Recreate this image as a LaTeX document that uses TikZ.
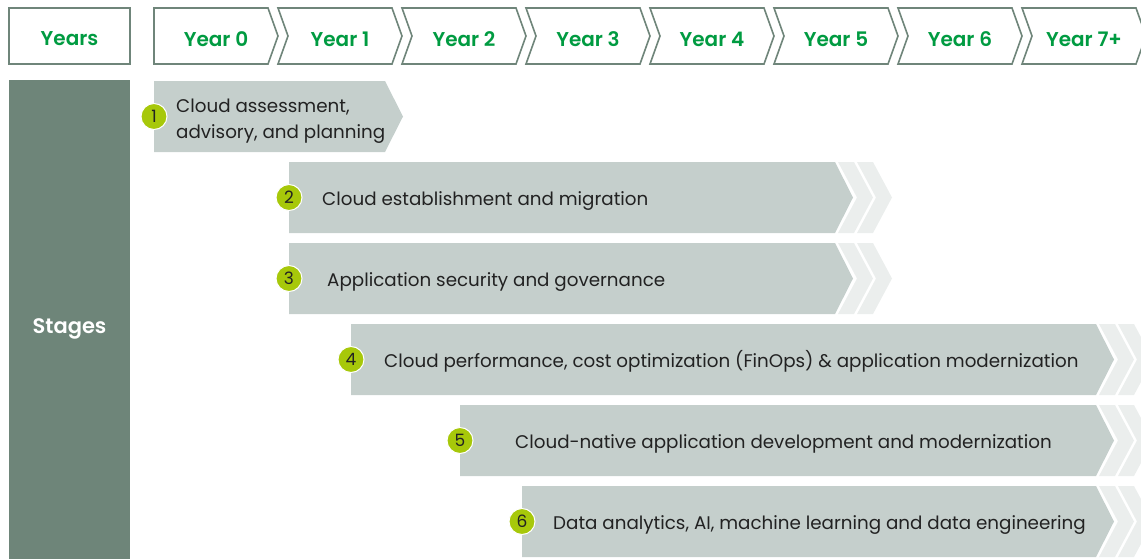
\documentclass[tikz,border=0pt]{standalone}
\usepackage{fontspec}
\setmainfont{Poppins}[BoldFont={Poppins SemiBold}]
\definecolor{frame}{RGB}{111,133,122}
\definecolor{yeargreen}{RGB}{0,155,65}
\definecolor{stagecol}{RGB}{110,133,121}
\definecolor{barfill}{RGB}{197,207,204}
\definecolor{ghost}{RGB}{235,238,237}
\definecolor{lime}{RGB}{167,200,10}
\definecolor{ink}{RGB}{34,34,34}
\tikzset{
  yearframe/.style={draw=frame, line width=1.6pt, fill=white},
  yeartext/.style={text=yeargreen, font=\fontsize{20}{22}\selectfont\bfseries, inner sep=0pt},
  bar/.style={fill=barfill},
  ghostbar/.style={fill=ghost},
  numdot/.style={circle, fill=lime, draw=white, line width=1pt, minimum size=26pt, inner sep=0pt,
    text=ink, font=\fontsize{17}{18}\selectfont},
  stagetext/.style={text=ink, font=\fontsize{18.3}{26}\selectfont, inner sep=0pt, align=left}
}
\begin{document}
\begin{tikzpicture}[x=1pt,y=-1pt]
\useasboundingbox (0,0) rectangle (1141,558);
\clip (0,0) rectangle (1141,558);

% header row
\node[yearframe, minimum width=121pt, minimum height=56pt, inner sep=0pt] (years) at (69.5,36) {};
\node[yeartext] (yearslabel) at (69.5,39) {Years};
\foreach \t [count=\i from 0] in {Year 0,Year 1,Year 2,Year 3,Year 4,Year 5,Year 6,Year 7+}{
  \pgfmathsetmacro{\L}{154+124*\i}
  \pgfmathsetmacro{\R}{\L+114}
  \pgfmathsetmacro{\N}{\i==0 ? 0 : 10}
  \draw[yearframe, line join=miter] (\L,8) -- (\R,8) -- ({\R+10},36) -- (\R,64) -- (\L,64) -- ({\L+\N},36) -- cycle;
  \node[yeartext] (year\i) at ({(\L+\R+10)/2},39) {\t};
}

% stages column
\node[fill=stagecol, minimum width=121pt, minimum height=494pt, inner sep=0pt, anchor=north west] (stages) at (9,80) {};
\node[text=white, font=\fontsize{21}{24}\selectfont\bfseries, inner sep=0pt] (stageslabel) at (69.5,329) {Stages};

% stage bars: index / left / flat right / ghost chevrons / text start / text
\foreach \i/\xa/\xb/\g/\tx/\txt in {
  1/154/385/0/176/{Cloud assessment,\\advisory, and planning},
  2/289/835/1/322/{Cloud establishment and migration},
  3/289/835/1/327/{Application security and governance},
  4/351/1096/1/384/{Cloud performance, cost optimization (FinOps) \& application modernization},
  5/460/1096/1/515/{Cloud-native application development and modernization},
  6/522/1096/1/553/{Data analytics, AI, machine learning and data engineering}}{
  \pgfmathsetmacro{\ya}{81*\i}
  \pgfmathsetmacro{\yb}{\ya+71}
  \pgfmathsetmacro{\ym}{\ya+35.5}
  % baseline of the (last) text line
  \pgfmathsetmacro{\yt}{\i==1 ? 138 : \ym+7.5}
  \ifnum\g=1
    \foreach \k in {0,1}{
      \pgfmathsetmacro{\ga}{\xb+3+19*\k}
      \fill[ghostbar] (\ga,\ya) -- ({\ga+16},\ya) -- ({\ga+35},\ym) -- ({\ga+16},\yb) -- (\ga,\yb) -- ({\ga+19},\ym) -- cycle;
    }
  \fi
  \fill[bar] (\xa,\ya) -- (\xb,\ya) -- ({\xb+18},\ym) -- (\xb,\yb) -- (\xa,\yb) -- cycle;
  \node[numdot] (num\i) at (\xa,\ym) {\i};
  \node[stagetext, anchor=base west] (stage\i) at (\tx,\yt) {\txt};
}
\end{tikzpicture}
\end{document}
